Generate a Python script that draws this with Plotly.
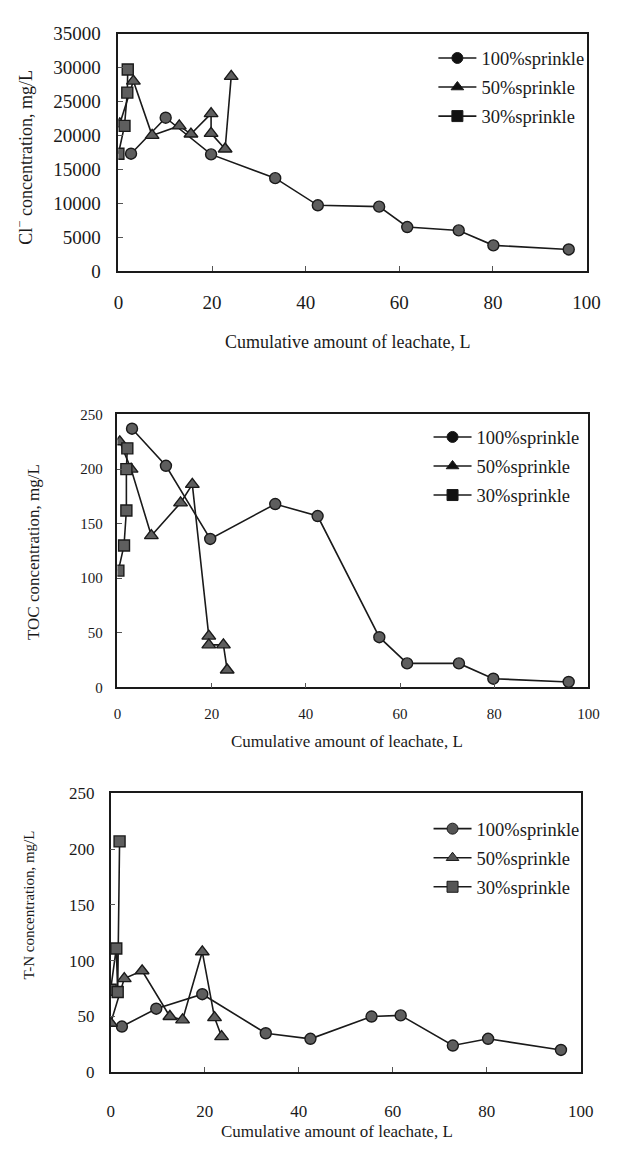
import plotly.graph_objects as go

# ---------------- data ----------------
# Panel 1: Cl- concentration (mg/L)
cl_x_100 = [2.7, 10.1, 19.8, 33.5, 42.6, 55.7, 61.7, 72.7, 80.1, 96.2]
cl_y_100 = [17300, 22600, 17200, 13700, 9700, 9500, 6500, 6000, 3800, 3200]
cl_x_50 = [0.3, 3.2, 7.2, 13.0, 15.5, 19.8, 19.8, 22.8, 24.1]
cl_y_50 = [21700, 28000, 20000, 21400, 20200, 23200, 20300, 18000, 28700]
cl_x_30 = [0.0, 1.3, 1.9, 2.0]
cl_y_30 = [17300, 21400, 26300, 29700]

# Panel 2: TOC concentration (mg/L)
toc_x_100 = [3.1, 10.3, 19.7, 33.5, 42.5, 55.6, 61.5, 72.5, 79.8, 95.8]
toc_y_100 = [237, 203, 136, 168, 157, 46, 22, 22, 8, 5]
toc_x_50 = [0.5, 2.9, 7.2, 13.4, 15.9, 19.4, 19.4, 22.5, 23.3]
toc_y_50 = [225, 200, 139, 169, 186, 47, 39, 39, 16]
toc_x_30 = [0.2, 1.4, 1.9, 1.9, 2.1]
toc_y_30 = [107, 130, 162, 200, 219]

# Panel 3: T-N concentration (mg/L)
tn_x_100 = [2.4, 9.7, 19.5, 33.0, 42.5, 55.5, 61.7, 72.8, 80.3, 95.8]
tn_y_100 = [41, 57, 70, 35, 30, 50, 51, 24, 30, 20]
tn_x_50 = [0.0, 2.9, 6.7, 12.6, 15.3, 19.5, 22.1, 23.6]
tn_y_50 = [44, 84, 91, 50, 47, 108, 49, 32]
tn_x_30 = [0.0, 1.2, 1.5, 1.9]
tn_y_30 = [74, 111, 72, 207]

series_names = ["100%sprinkle", "50%sprinkle", "30%sprinkle"]
symbols = ["circle", "triangle-up", "square"]

x_title = "Cumulative amount of leachate, L"
y_titles = ["Cl<sup>−</sup> concentration, mg/L", "TOC concentration, mg/L", "T-N concentration, mg/L"]

W, H = 617, 1152
FONT = "Liberation Serif"

panels = [
    dict(data=[(cl_x_100, cl_y_100), (cl_x_50, cl_y_50), (cl_x_30, cl_y_30)],
         box=(117, 600, 24, 266), yr=[0, 35000], dy=5000, tick=19, tfs=18, yfs=18,
         legxy=(442, 30), legcol="#111", xt=(353, 338), yt=(20, 150), xstand=13, ystand=12),
    dict(data=[(toc_x_100, toc_y_100), (toc_x_50, toc_y_50), (toc_x_30, toc_y_30)],
         box=(116, 602, 412, 690), yr=[0, 250], dy=50, tick=15, tfs=17, yfs=17,
         legxy=(437, 416), legcol="#111", xt=(353, 745), yt=(30, 552), xstand=12, ystand=10),
    dict(data=[(tn_x_100, tn_y_100), (tn_x_50, tn_y_50), (tn_x_30, tn_y_30)],
         box=(109, 594, 798, 1082), yr=[0, 250], dy=50, tick=17, tfs=17, yfs=15,
         legxy=(437, 815), legcol="#555", xt=(343, 1142), yt=(25, 912), xstand=23, ystand=11),
]

fig = go.Figure()
annotations = []
for i, p in enumerate(panels):
    n = "" if i == 0 else str(i + 1)
    xa, ya = "x" + n, "y" + n
    leg = "legend" + n
    for k, (xs, ys) in enumerate(p["data"]):
        fig.add_trace(go.Scatter(
            x=xs, y=ys, mode="lines+markers", xaxis=xa, yaxis=ya,
            line=dict(color="#1a1a1a", width=1.6),
            marker=dict(symbol=symbols[k], size=11 if k != 1 else 12,
                        color="#5e5e5e", line=dict(color="#1a1a1a", width=1.4)),
            showlegend=False, name=series_names[k]))
        fig.add_trace(go.Scatter(
            x=[None], y=[None], mode="lines+markers", xaxis=xa, yaxis=ya,
            line=dict(color="#1a1a1a", width=1.6),
            marker=dict(symbol=symbols[k], size=11, color=p["legcol"],
                        line=dict(color="#1a1a1a", width=1)),
            name=series_names[k], legend=leg, legendgroup=f"g{i}{k}", showlegend=True))
    x0, x1, yt_, yb = p["box"]
    axcommon = dict(showline=True, linecolor="#1a1a1a", linewidth=1.6, mirror=True,
                    ticks="inside", ticklen=5, tickcolor="#555", showgrid=False, zeroline=False,
                    tickfont=dict(family=FONT, size=p["tick"], color="#1a1a1a"))
    fig.update_layout(**{
        ("xaxis" + n): dict(domain=[x0 / W, x1 / W], range=[0, 100], dtick=20,
                            anchor=ya, ticklabelstandoff=p["xstand"], **axcommon),
        ("yaxis" + n): dict(domain=[1 - yb / H, 1 - yt_ / H], range=p["yr"], dtick=p["dy"],
                            tickformat="d", anchor=xa, ticklabelstandoff=p["ystand"], **axcommon),
        leg: dict(x=p["legxy"][0] / W, y=1 - p["legxy"][1] / H, xanchor="left", yanchor="top",
                  font=dict(family=FONT, size=18.5, color="#1a1a1a"), bgcolor="rgba(0,0,0,0)",
                  traceorder="grouped", tracegroupgap=2, itemwidth=38),
    })
    annotations.append(dict(text=x_title, x=p["xt"][0] / W, y=1 - p["xt"][1] / H,
                            xref="paper", yref="paper", showarrow=False,
                            xanchor="center", yanchor="middle",
                            font=dict(family=FONT, size=p["tfs"], color="#1a1a1a")))
    annotations.append(dict(text=y_titles[i], x=p["yt"][0] / W, y=1 - p["yt"][1] / H,
                            xref="paper", yref="paper", showarrow=False, textangle=-90,
                            xanchor="center", yanchor="middle",
                            font=dict(family=FONT, size=p["yfs"], color="#1a1a1a")))

fig.update_layout(width=W, height=H, margin=dict(l=0, r=0, t=0, b=0),
                  paper_bgcolor="white", plot_bgcolor="white",
                  annotations=annotations)
fig.write_html("out.html")
